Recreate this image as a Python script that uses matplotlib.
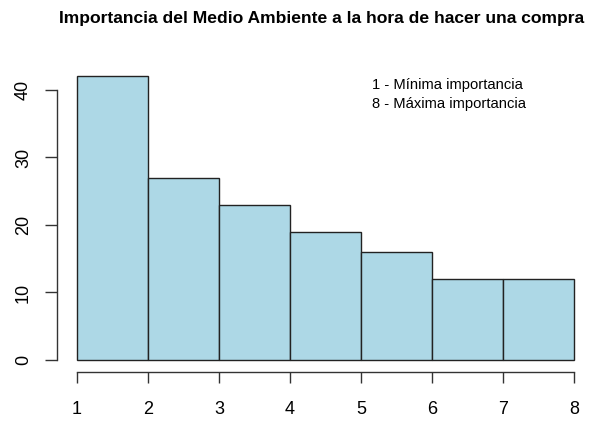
import matplotlib.pyplot as plt
import numpy as np

# Datos del histograma
bin_edges = [1, 2, 3, 4, 5, 6, 7, 8]
counts = [42, 27, 23, 19, 16, 12, 12]
y_ticks = [0, 10, 20, 30, 40]
title = "Importancia del Medio Ambiente a la hora de hacer una compra"
nota = ["1 - Mínima importancia", "8 - Máxima importancia"]

plt.rcParams["font.family"] = ["Liberation Sans", "DejaVu Sans"]

W, H = 592, 421
fig = plt.figure(figsize=(W / 100, H / 100), dpi=100)
# área de dibujo: eje y en x=57 px, eje x en y=372 px
ax = fig.add_axes([57 / W, (H - 372) / H, 537 / W, (372 - 65) / H])

left = np.array(bin_edges[:-1])
widths = np.diff(bin_edges)
ax.bar(left, counts, width=widths, align="edge", color="lightblue",
       edgecolor="#222222", linewidth=1.0)

ax.set_xlim(0.718, 8.282)
ax.set_ylim(-1.78, 43.7)

for s in ["top", "right"]:
    ax.spines[s].set_visible(False)
ax.spines["left"].set_bounds(0, 40)
ax.spines["bottom"].set_bounds(1, 8)
for s in ["left", "bottom"]:
    ax.spines[s].set_color("#333333")
    ax.spines[s].set_linewidth(1.0)

ax.set_xticks(bin_edges)
ax.set_yticks(y_ticks)
ax.tick_params(axis="both", direction="out", width=1.0,
               color="#333333", labelsize=13)
ax.tick_params(axis="x", length=8, pad=13)
ax.tick_params(axis="y", length=9, pad=9)
for lab in ax.get_yticklabels():
    lab.set_rotation(90)
    lab.set_va("center")

ax.text(5.155, 40.8, nota[0], fontsize=10.6, va="center", ha="left")
ax.text(5.155, 37.9, nota[1], fontsize=10.6, va="center", ha="left")

fig.text(321.5 / W, 1 - 23 / H, title, fontsize=12.6, fontweight="bold",
         ha="center", va="baseline")

fig.savefig("out.png", dpi=100)
